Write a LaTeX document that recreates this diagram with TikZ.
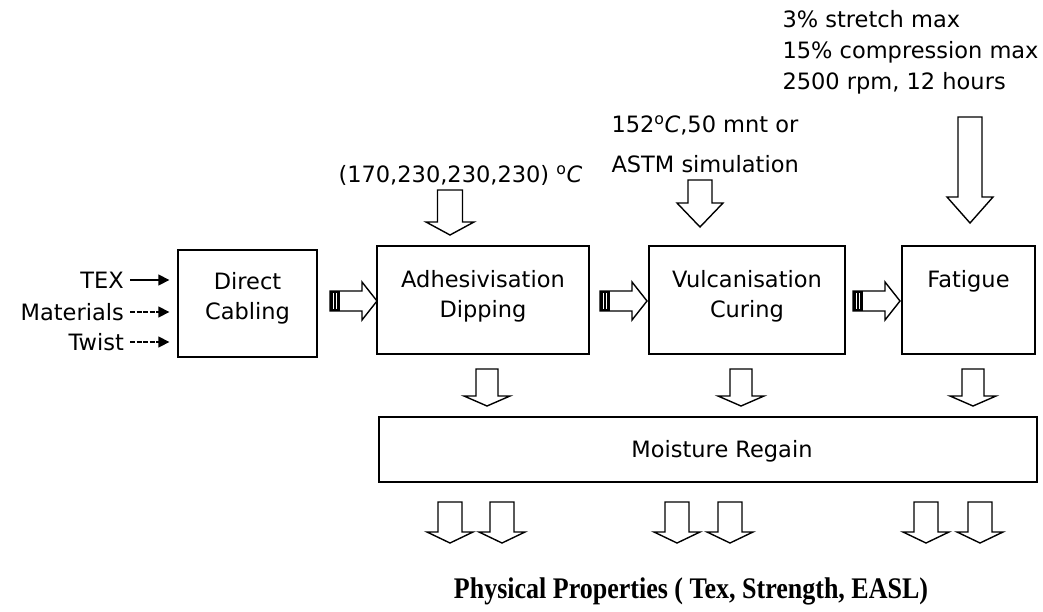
\documentclass[tikz,border=0pt]{standalone}
\usepackage{fontspec}
\setmainfont{DejaVu Sans}
\newfontfamily\resultfont{Liberation Serif}
\usetikzlibrary{arrows.meta,positioning}
\tikzset{
	every box/.style={
		draw,
		line width=1.3pt,
		inner sep=0pt },
	box text/.style={
		font=\fontsize{22.5}{30}\selectfont,
		align=center },
	note text/.style={
		font=\fontsize{22.5}{31}\selectfont,
		align=left },
	block arrow/.style={
		draw,
		fill=white,
		line width=1.4pt },
	feed arrow/.style={
		-{Triangle[length=11pt,width=11pt]},
		line width=1.3pt,
		shorten <=6pt,
		shorten >=8pt },
	broken/.style={
		dash pattern=on 5pt off 1.5pt },
	pics/down arrow/.style n args={4}{code={
		\draw [block arrow] (-#1,0) -- (#1,0) -- (#1,#2) -- (#3,#2)
			-- (0,{#2+#4}) -- (-#3,#2) -- (-#1,#2) -- cycle; }},
	pics/stripe arrow/.style={code={
		\draw [block arrow] (0,-10) -- (32,-10) -- (32,-19) -- (47,0)
			-- (32,19) -- (32,10) -- (0,10) -- cycle;
		\fill (0,-10) rectangle (10,10);
		\foreach \s in {3.5,6.5}
		\draw [white, line width=0.8pt] (\s,-8) -- (\s,8); }},
}

\begin{document}
\begin{tikzpicture}[x=1pt, y=-1pt]
	\useasboundingbox (0,0) rectangle (1043,611);

		% process boxes
		\node [every box, minimum width=139, minimum height=107] (cabling) at (247.5,303.5) {};
		\node [every box, minimum width=212, minimum height=108] (adhesion) at (483,300) {};
		\node [every box, minimum width=196, minimum height=108] (vulcan) at (747,300) {};
		\node [every box, minimum width=133, minimum height=108] (fatigue) at (968.5,300) {};
		\node [every box, minimum width=658, minimum height=65] (moisture) at (708,449.5) {};

		\node [box text, below=20pt of cabling.north] (cabling-text) {Direct\\Cabling};
		\node [box text, below=22pt of adhesion.north] (adhesion-text) {Adhesivisation\\Dipping};
		\node [box text, below=22pt of vulcan.north] (vulcan-text) {Vulcanisation\\Curing};
		\node [box text, below=22pt of fatigue.north] (fatigue-text) {Fatigue};
		\node [box text] (moisture-text) at (722,451) {Moisture Regain};

		% inputs
		\foreach \n/\l/\y in {tex/TEX/280,materials/Materials/312,twist/Twist/342}
		\node [box text, anchor=east, inner sep=0pt] (\n) at (124,\y) {\l};

		\draw [feed arrow] (tex.east) -- (tex.east -| cabling.west);
		\draw [feed arrow, broken] (materials.east) -- (materials.east -| cabling.west);
		\draw [feed arrow, broken] (twist.east) -- (twist.east -| cabling.west);

		% process conditions
		\node [note text, anchor=west] (dip-cond) at (335,175)
		{(170,230,230,230) \textsuperscript{o}\textit{C}};
		\node [note text, anchor=west, font=\fontsize{22.5}{40}\selectfont] (cure-cond) at (608,144)
		{152\textsuperscript{o}\textit{C},50 mnt or\\ASTM simulation};
		\node [note text, anchor=west] (fatigue-cond) at (779,52)
		{3\% stretch max\\15\% compression max\\2500 rpm, 12 hours};

		% block arrows
		\pic at (450,190) {down arrow={12.5}{32}{24}{13}};
		\pic at (700,180) {down arrow={12}{23}{23}{24}};
		\pic at (970,117) {down arrow={12}{80}{23}{26}};

		\foreach \x in {330,600,853}
		\pic at (\x,301) {stripe arrow};

		\foreach \x in {487,741,973}
		\pic at (\x,369) {down arrow={11}{27}{23}{10}};

		\foreach \x in {450,502,677,730,926,980}
		\pic at (\x,502) {down arrow={12}{30}{23}{11}};

		% result
		\node (result) at (691,591)
		{\scalebox{1}[1.15]{\resultfont\bfseries\fontsize{26}{30}\selectfont Physical Properties ( Tex, Strength, EASL)}};
	\end{tikzpicture}
\end{document}
